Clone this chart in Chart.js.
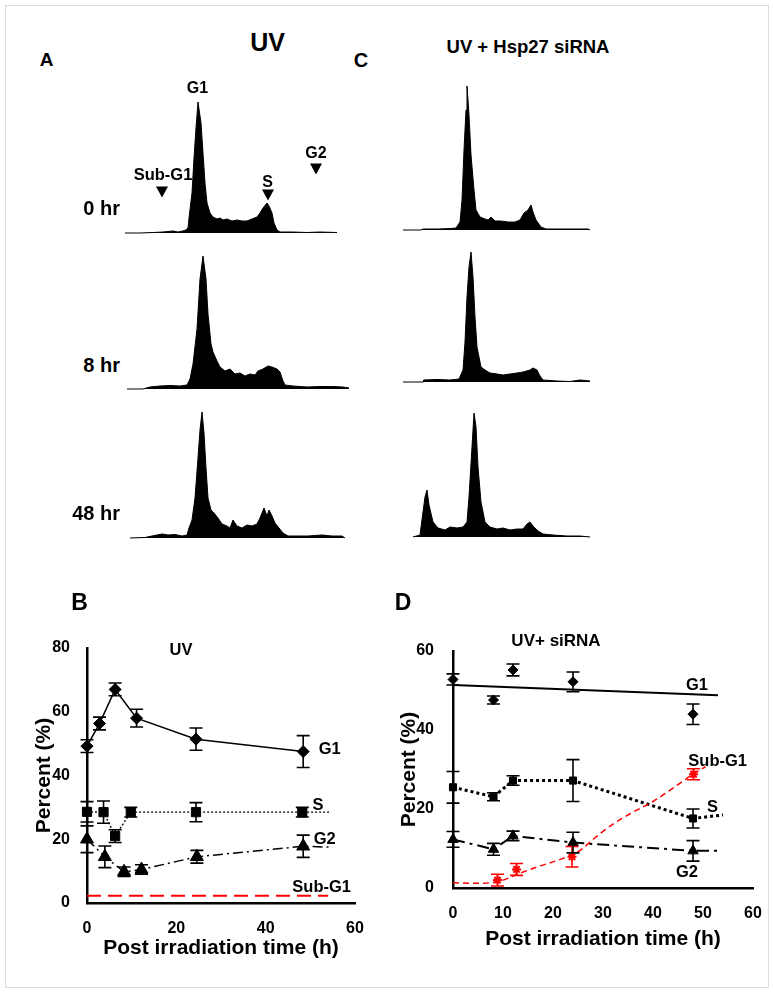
<!DOCTYPE html>
<html>
<head>
<meta charset="utf-8">
<script src="https://cdn.jsdelivr.net/npm/chart.js@4"></script>
<style>
body{margin:0;background:#fff;width:774px;height:993px;position:relative;overflow:hidden;font-family:"Liberation Sans",Arial,sans-serif;font-weight:bold;color:#000}
#frame{position:absolute;left:5px;top:5px;width:762px;height:981px;border:1.5px solid #dcdcdc}
canvas{position:absolute}
.t{position:absolute;transform:translate(-50%,-50%);white-space:nowrap;line-height:1}
.r{position:absolute;transform:translate(-100%,-50%);white-space:nowrap;line-height:1}
.tri{position:absolute;width:0;height:0;border-left:6px solid transparent;border-right:6px solid transparent;border-top:11px solid #000;transform:translate(-50%,-50%)}
</style>
</head>
<body>
<div id="frame"></div>

<canvas id="a0" width="212" height="152" style="left:125px;top:82px"></canvas>
<canvas id="a8" width="222" height="152" style="left:127px;top:238px"></canvas>
<canvas id="a48" width="215" height="152" style="left:130px;top:387px"></canvas>
<canvas id="c0" width="187" height="152" style="left:403px;top:79px"></canvas>
<canvas id="c8" width="187" height="152" style="left:403px;top:231px"></canvas>
<canvas id="c48" width="177" height="152" style="left:413px;top:386px"></canvas>
<canvas id="chartB" width="385" height="420" style="left:0;top:560px"></canvas>
<canvas id="chartD" width="390" height="420" style="left:380px;top:560px"></canvas>

<div class="t" style="left:46.5px;top:59px;font-size:19px">A</div>
<div class="t" style="left:267.5px;top:41.5px;font-size:25px">UV</div>
<div class="t" style="left:361px;top:60px;font-size:20px">C</div>
<div class="t" style="left:528px;top:47px;font-size:18.5px">UV + Hsp27 siRNA</div>
<div class="t" style="left:197.5px;top:87.5px;font-size:16px">G1</div>
<div class="t" style="left:163px;top:173.5px;font-size:16.5px">Sub-G1</div>
<div class="t" style="left:267.7px;top:181.7px;font-size:16px">S</div>
<div class="t" style="left:316px;top:153px;font-size:16px">G2</div>
<div class="tri" style="left:162.3px;top:191.7px"></div>
<div class="tri" style="left:267.7px;top:195px"></div>
<div class="tri" style="left:316px;top:169px"></div>
<div class="r" style="left:120px;top:208px;font-size:20px">0 hr</div>
<div class="r" style="left:120px;top:365px;font-size:20px">8 hr</div>
<div class="r" style="left:120px;top:513px;font-size:20px">48 hr</div>

<div class="t" style="left:79.5px;top:601.5px;font-size:23px">B</div>
<div class="t" style="left:181px;top:649px;font-size:16.5px">UV</div>
<div class="t" style="left:329.7px;top:747.5px;font-size:16.5px">G1</div>
<div class="t" style="left:318px;top:804px;font-size:16.5px">S</div>
<div class="t" style="left:324.7px;top:837.5px;font-size:16.5px">G2</div>
<div class="t" style="left:321.7px;top:886px;font-size:16.5px">Sub-G1</div>

<div class="t" style="left:403px;top:601.5px;font-size:23px">D</div>
<div class="t" style="left:556px;top:639.5px;font-size:17px">UV+ siRNA</div>
<div class="t" style="left:697px;top:683.7px;font-size:16.5px">G1</div>
<div class="t" style="left:717.7px;top:760px;font-size:16.5px">Sub-G1</div>
<div class="t" style="left:712.5px;top:806px;font-size:16.5px">S</div>
<div class="t" style="left:687px;top:871px;font-size:16.5px">G2</div>

<script>
// flow histograms: channel / count
const a0Chan  = [0, 15, 28, 38, 48, 53, 60, 63, 64, 67, 69, 71, 73, 76, 78, 80, 82, 85, 88, 92, 95, 98, 102, 107, 112, 117, 122, 127, 132, 135, 138, 142, 144, 147, 149, 152, 155, 168, 182, 195, 212];
const a0Count = [0, 0, 0.5, 1, 2, 1, 2.5, 5, 15, 40, 75, 105, 131, 110, 80, 50, 30, 20, 16, 14, 15, 13, 14, 12, 13, 12, 12, 14, 16, 20, 25, 30, 27, 20, 10, 3, 1, 1, 0.5, 1, 0.5];

const a8Chan  = [0, 16, 23, 33, 43, 53, 60, 63, 66, 70, 73, 76, 79, 81, 84, 86, 90, 93, 98, 103, 108, 113, 118, 123, 128, 131, 136, 141, 145, 150, 153, 156, 158, 166, 180, 193, 206, 216, 222];
const a8Count = [0, 0, 2, 3, 3.5, 3, 4, 10, 25, 60, 110, 133, 110, 75, 45, 37, 28, 22, 18, 20, 15, 16, 13, 15, 14, 18, 20, 23, 22, 20, 17, 8, 4, 3, 2, 2.5, 2.5, 2, 1];

const a48Chan  = [0, 15, 22, 27, 32, 38, 45, 52, 57, 59, 62, 65, 68, 70, 72, 74, 76, 78, 81, 84, 88, 92, 97, 100, 103, 107, 112, 117, 122, 127, 130, 134, 137, 139, 142, 145, 149, 153, 158, 165, 178, 192, 202, 212, 215];
const a48Count = [0, 0.5, 2, 3, 4, 3, 3.5, 2, 3, 10, 18, 40, 80, 108, 126, 105, 70, 40, 28, 25, 20, 14, 12, 10, 18, 12, 10, 13, 12, 14, 20, 30, 22, 28, 22, 15, 10, 5, 2, 2, 2, 3, 2, 2, 0];

const c0Chan  = [0, 18, 20, 35, 48, 53, 57, 59, 61, 63, 64, 66, 68, 71, 73, 77, 82, 85, 88, 92, 98, 105, 112, 117, 121, 125, 128, 130, 133, 138, 143, 155, 168, 185, 187];
const c0Count = [0, 0, 1, 1, 1.5, 2, 8, 30, 80, 120, 144, 115, 75, 40, 20, 13, 11, 10, 13, 9, 9, 8, 8, 10, 17, 20, 25, 18, 10, 3, 1, 1, 1, 1, 0];

const c8Chan  = [0, 20, 20.5, 34, 47, 56, 60, 62, 64, 66, 68, 70, 72, 74, 78, 82, 87, 94, 100, 107, 114, 120, 127, 130, 134, 137, 140, 154, 167, 177, 187];
const c8Count = [0, 0, 2, 2.5, 2, 3, 12, 40, 85, 115, 130, 105, 65, 35, 15, 12, 9, 8, 7, 8, 9, 10, 12, 14, 12, 6, 2, 1, 0.5, 2, 1];

const c48Chan  = [0, 7, 10, 12, 14, 16, 20, 25, 32, 37, 44, 50, 54, 56, 59, 61, 63, 65, 68, 72, 77, 84, 90, 97, 104, 110, 114, 117, 120, 125, 130, 140, 154, 167, 177];
const c48Count = [0, 2, 25, 40, 47, 32, 15, 9, 7, 10, 9, 10, 15, 40, 90, 124, 110, 70, 35, 15, 10, 8, 9, 7, 8, 8, 13, 15, 11, 6, 3, 2, 1, 1, 0];

// panel B (UV)
const bTimeG1 = [0, 2.8, 6.3, 11.1, 24.4, 48.4];
const bG1     = [49.2, 56.3, 67, 58, 51.4, 47.5];
const bG1Err  = [2, 2, 2, 2.8, 3.5, 5];
const bTimeS  = [0, 3.7, 6.3, 9.8, 24.4, 48.2, 54.5];
const bS      = [28.6, 28.5, 21, 28.5, 28.5, 28.5, 28.5];
const bSErr   = [3.2, 3.5, 2, 1.5, 3, 1.5, null];
const bTimeG2 = [0, 4, 8.3, 12.2, 24.6, 48.4, 55];
const bG2     = [20, 14.5, 9.8, 10.5, 14.5, 17.8, 17.5];
const bG2Err  = [4.2, 3.4, 1.5, 1.5, 2, 3.5, null];
const bTimeSub = [0, 54];
const bSub     = [2.3, 2.3];

// panel D (UV + siRNA)
const dTime    = [0, 8.1, 12, 24, 48];
const dG1      = [52.8, 47.6, 55.2, 52.2, 44];
const dG1Err   = [1.4, 1, 1.5, 2.5, 2.6];
const dTimeG1Fit = [0, 53];
const dG1Fit     = [51.4, 48.8];
const dTimeS   = [0, 8.1, 12, 24, 48, 54];
const dS       = [25.5, 23.1, 27.2, 27.2, 17.6, 18.5];
const dSErr    = [4, 1, 1.2, 5.3, 2.4, null];
const dTimeG2  = [0, 8.1, 12, 24, 48, 53];
const dG2      = [12.3, 9.8, 13.2, 11.5, 9.4, 9.4];
const dG2Err   = [2, 1.5, 1.2, 2.6, 2.6, null];
const dTimeSub = [8.9, 12.7, 23.8, 48.1];
const dSub     = [2, 4.7, 7.9, 28.8];
const dSubErr  = [1.5, 1.5, 2.6, 1.4];
const dTimeSubFit = [0, 5.5, 9.5, 13.5, 17.5, 22, 25.5, 28, 32, 36, 40, 44, 48, 50.5];
const dSubFit     = [1.3, 1.2, 1.8, 3.8, 5.6, 7.5, 9.6, 12.3, 16.2, 19.2, 21.9, 25.3, 28.8, 30.7];

Chart.defaults.font.family = '"Liberation Sans", Arial, sans-serif';
Chart.defaults.font.weight = 'bold';
Chart.defaults.color = '#000';

function pts(xs, ys) {
  return xs.map((x, i) => ({x: x, y: ys[i]}));
}

function histogram(id, chan, count) {
  new Chart(document.getElementById(id), {
    type: 'line',
    data: {datasets: [{
      data: pts(chan, count),
      fill: 'origin',
      backgroundColor: '#000',
      borderColor: '#000',
      borderWidth: 1,
      pointRadius: 0,
      tension: 0,
      clip: false
    }]},
    options: {
      responsive: false, animation: false, events: [],
      layout: {padding: {top: 1, bottom: 1}},
      plugins: {legend: {display: false}, tooltip: {enabled: false}},
      scales: {
        x: {type: 'linear', display: false, min: 0, max: chan[chan.length - 1]},
        y: {display: false, min: 0, max: 150}
      }
    }
  });
}

histogram('a0', a0Chan, a0Count);
histogram('a8', a8Chan, a8Count);
histogram('a48', a48Chan, a48Count);
histogram('c0', c0Chan, c0Count);
histogram('c8', c8Chan, c8Count);
histogram('c48', c48Chan, c48Count);

// error bars drawn through the chart's own scales
const errorBars = {
  id: 'errorBars',
  afterDatasetsDraw(chart) {
    const ctx = chart.ctx;
    const xs = chart.scales.x, ys = chart.scales.y;
    chart.data.datasets.forEach(ds => {
      if (!ds.errors) return;
      ctx.save();
      ctx.strokeStyle = ds.errColor || '#000';
      ctx.lineWidth = 1.6;
      ctx.setLineDash([]);
      const cap = 6.5;
      ds.data.forEach((p, i) => {
        const e = ds.errors[i];
        if (e == null) return;
        const px = xs.getPixelForValue(p.x);
        const top = ys.getPixelForValue(p.y + e);
        const bot = ys.getPixelForValue(p.y - e);
        ctx.beginPath();
        ctx.moveTo(px, top); ctx.lineTo(px, bot);
        ctx.moveTo(px - cap, top); ctx.lineTo(px + cap, top);
        ctx.moveTo(px - cap, bot); ctx.lineTo(px + cap, bot);
        ctx.stroke();
      });
      ctx.restore();
    });
  }
};

function series(xs, ys, errs, style, radius, dash, width, color, smooth) {
  color = color || '#000';
  return {
    data: pts(xs, ys),
    errors: errs,
    errColor: color,
    borderColor: color,
    backgroundColor: color,
    borderWidth: width,
    borderDash: dash,
    pointStyle: style,
    pointRadius: xs.map((_, i) => errs && errs[i] != null ? radius : 0),
    pointBorderWidth: style === 'star' ? 2 : 1,
    showLine: width > 0,
    tension: smooth ? 0.4 : 0,
    cubicInterpolationMode: smooth ? 'monotone' : 'default',
    clip: false
  };
}

function lineChart(id, datasets, o) {
  new Chart(document.getElementById(id), {
    type: 'line',
    data: {datasets: datasets},
    plugins: [errorBars],
    options: {
      responsive: false, animation: false, events: [],
      layout: {padding: {top: o.top, right: o.right, left: 0, bottom: 0}},
      plugins: {legend: {display: false}, tooltip: {enabled: false}},
      scales: {
        x: {
          type: 'linear', min: 0, max: 60,
          grid: {display: false},
          border: {display: true, color: '#000', width: 2.5},
          ticks: {stepSize: o.xStep, padding: 8, font: {size: 16, weight: 'bold'}},
          title: {display: true, text: 'Post irradiation time (h)', font: {size: 21, weight: 'bold'}, padding: {top: 0, bottom: o.xTitlePad}},
          afterFit: s => { s.height = o.xHeight; }
        },
        y: {
          min: 0, max: o.yMax,
          grid: {display: false},
          border: {display: true, color: '#000', width: 2.5},
          ticks: {stepSize: 20, padding: o.yTickPad, font: {size: 16, weight: 'bold'}},
          title: {display: true, text: 'Percent (%)', font: {size: 21, weight: 'bold'}, padding: {top: o.yTitlePad, bottom: 0}},
          afterFit: s => { s.width = o.yWidth; }
        }
      }
    }
  });
}

lineChart('chartB', [
  series(bTimeSub, bSub, null, 'circle', 0, [14, 7], 2, '#ff0000'),
  series(bTimeG1, bG1, bG1Err, 'rectRot', 6, [], 1.5),
  series(bTimeS, bS, bSErr, 'rect', 6.5, [2, 2], 1.3),
  series(bTimeG2, bG2, bG2Err, 'triangle', 7.5, [10, 4, 2, 4], 1.5)
], {top: 88, right: 30, xHeight: 77, yWidth: 87, yMax: 80, xStep: 20, xTitlePad: 19, yTitlePad: 32, yTickPad: 9});

lineChart('chartD', [
  series(dTimeSubFit, dSubFit, null, 'circle', 0, [6, 4], 1.5, '#ff0000', true),
  series(dTimeSub, dSub, dSubErr, 'star', 4.5, [], 0, '#ff0000'),
  series(dTimeG1Fit, dG1Fit, null, 'circle', 0, [], 2),
  series(dTime, dG1, dG1Err, 'rectRot', 5, [], 0),
  series(dTimeS, dS, dSErr, 'rect', 5, [3, 3], 3),
  series(dTimeG2, dG2, dG2Err, 'triangle', 6, [12, 5, 3, 5], 2)
], {top: 91, right: 17, xHeight: 92, yWidth: 73, yMax: 60, xStep: 10, xTitlePad: 28, yTitlePad: 17, yTickPad: 11});
</script>
</body>
</html>
